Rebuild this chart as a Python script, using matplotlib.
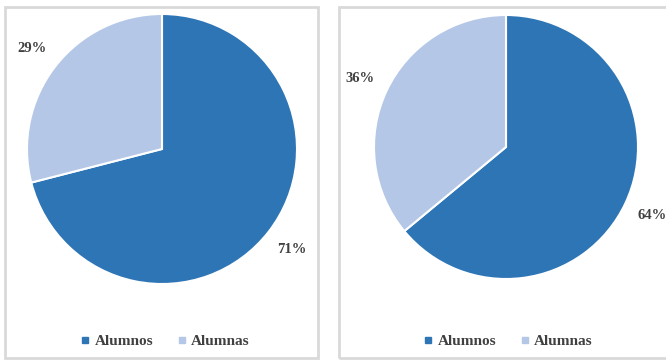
import matplotlib
matplotlib.use('Agg')
import matplotlib.pyplot as plt
from matplotlib.patches import Rectangle
from matplotlib.lines import Line2D

categories = ['Alumnos', 'Alumnas']
left_values = [71, 29]
right_values = [64, 36]

colors = ['#2E75B6', '#B4C7E7']
txt_color = '#404040'

plt.rcParams['font.family'] = ['Liberation Serif', 'DejaVu Serif']

W, H = 666, 361
fig = plt.figure(figsize=(W / 100, H / 100), dpi=100)


def px_box(x0, y0, x1, y1):
    # pixel box (top-left origin) -> figure fraction rect
    return [x0 / W, 1 - y1 / H, (x1 - x0) / W, (y1 - y0) / H]


def panel(frame, center, radius, values, legend_x):
    x0, y0, x1, y1 = frame
    fig.patches.append(Rectangle((x0 / W, 1 - y1 / H), (x1 - x0) / W, (y1 - y0) / H,
                                 transform=fig.transFigure, fill=False,
                                 edgecolor='#D9D9D9', linewidth=2))
    cx, cy = center
    ax = fig.add_axes(px_box(cx - radius, cy - radius, cx + radius, cy + radius))
    wedges, _, autotexts = ax.pie(values, colors=colors, startangle=90, counterclock=False,
                                  radius=1.0, autopct='%d%%', pctdistance=1.22,
                                  wedgeprops=dict(edgecolor='white', linewidth=1.5),
                                  textprops=dict(color=txt_color, fontsize=10.5,
                                                 fontweight='bold'))
    for t in autotexts:
        t.set_clip_on(False)
    ax.set_xlim(-1, 1)
    ax.set_ylim(-1, 1)
    ax.set_aspect('equal')
    ax.axis('off')

    handles = [Line2D([], [], marker='s', ls='', color=c, markersize=4) for c in colors]
    fig.legend(handles, categories, loc='center', bbox_to_anchor=(legend_x / W, 1 - 341 / H),
               ncol=2, frameon=False, handletextpad=0.0, handlelength=1.2,
               columnspacing=1.3, prop=dict(size=11, weight='bold'),
               labelcolor=txt_color)


panel((5, 7, 318, 358), (162, 149), 135, left_values, 163)
panel((339, 7, 668, 358), (506, 147), 132, right_values, 506)

fig.savefig('out.png', dpi=100)
